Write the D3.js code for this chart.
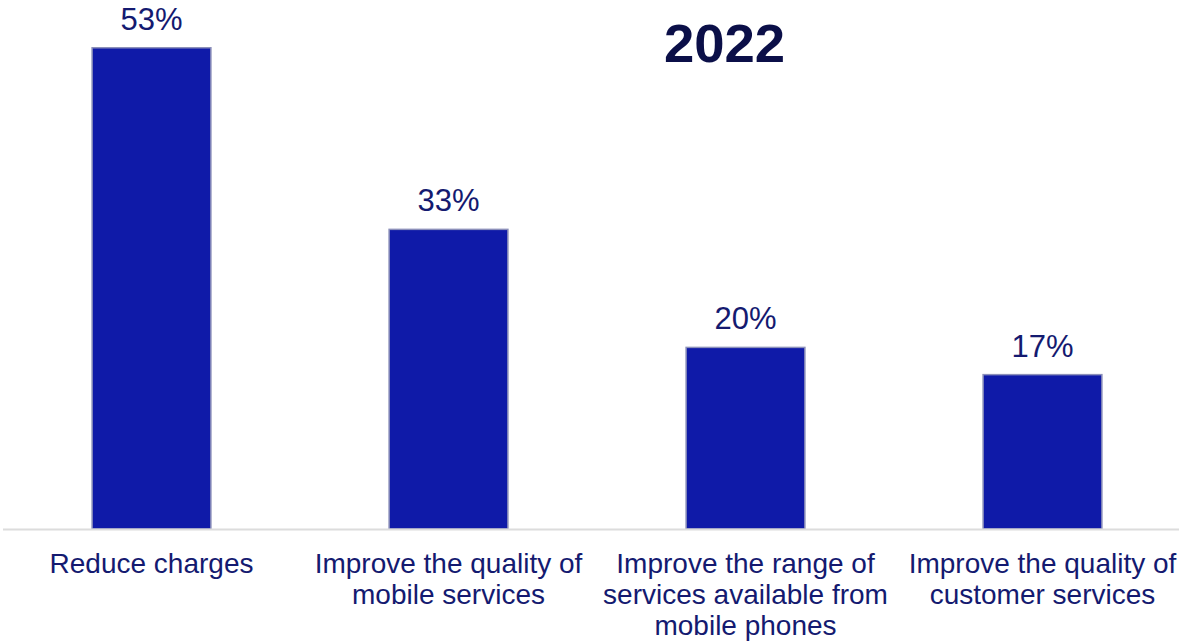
<!DOCTYPE html>
<html>
<head>
<meta charset="utf-8">
<script src="https://cdn.jsdelivr.net/npm/d3@7"></script>
<style>
  html, body { margin: 0; padding: 0; background: #fff; }
  svg { display: block; font-family: "Liberation Sans", Arial, sans-serif; }
</style>
</head>
<body>
<svg id="chart" width="1179" height="641"></svg>
<script>
const categories = [
  ["Reduce charges"],
  ["Improve the quality of", "mobile services"],
  ["Improve the range of", "services available from", "mobile phones"],
  ["Improve the quality of", "customer services"]
];
const categoryKeys = ["Reduce charges", "Improve the quality of mobile services", "Improve the range of services available from mobile phones", "Improve the quality of customer services"];
const values = [53, 33, 20, 17];
const title = "2022";

const svg = d3.select("#chart");
const baseY = 529;

const x = d3.scaleBand().domain(categoryKeys).range([3, 1191]).paddingInner(0).paddingOuter(0);
const barW = x.bandwidth() * 0.4;
const y = d3.scaleLinear().domain([0, 60]).range([baseY, baseY - 60 * 9.08]);

// bars
svg.selectAll("rect.bar").data(values).join("rect")
  .attr("class", "bar")
  .attr("x", (d, i) => x(categoryKeys[i]) + x.bandwidth() / 2 - barW / 2)
  .attr("y", d => y(d))
  .attr("width", barW)
  .attr("height", d => y(0) - y(d))
  .attr("fill", "#0F1AA8")
  .attr("stroke", "#8C90BA")
  .attr("stroke-width", 1.5);

// baseline axis
svg.append("line")
  .attr("x1", 3).attr("x2", 1179)
  .attr("y1", baseY + 0.5).attr("y2", baseY + 0.5)
  .attr("stroke", "#DCDCDC").attr("stroke-width", 2);

// value labels
svg.selectAll("text.val").data(values).join("text")
  .attr("class", "val")
  .attr("x", (d, i) => x(categoryKeys[i]) + x.bandwidth() / 2)
  .attr("y", d => y(d) - 18)
  .attr("text-anchor", "middle")
  .attr("font-size", 31)
  .attr("fill", "#141A70")
  .text(d => d + "%");

// category labels
const lab = svg.selectAll("text.cat").data(categories).join("text")
  .attr("class", "cat")
  .attr("text-anchor", "middle")
  .attr("font-size", 28)
  .attr("fill", "#141A70");
lab.each(function(lines, i) {
  const cx = x(categoryKeys[i]) + x.bandwidth() / 2;
  d3.select(this).selectAll("tspan").data(lines).join("tspan")
    .attr("x", cx)
    .attr("y", (d, j) => 573 + j * 31)
    .text(d => d);
});

// title
svg.append("text")
  .attr("x", 724.5).attr("y", 62)
  .attr("text-anchor", "middle")
  .attr("font-size", 54.5)
  .attr("font-weight", "bold")
  .attr("fill", "#0B0F48")
  .text(title);
</script>
</body>
</html>
